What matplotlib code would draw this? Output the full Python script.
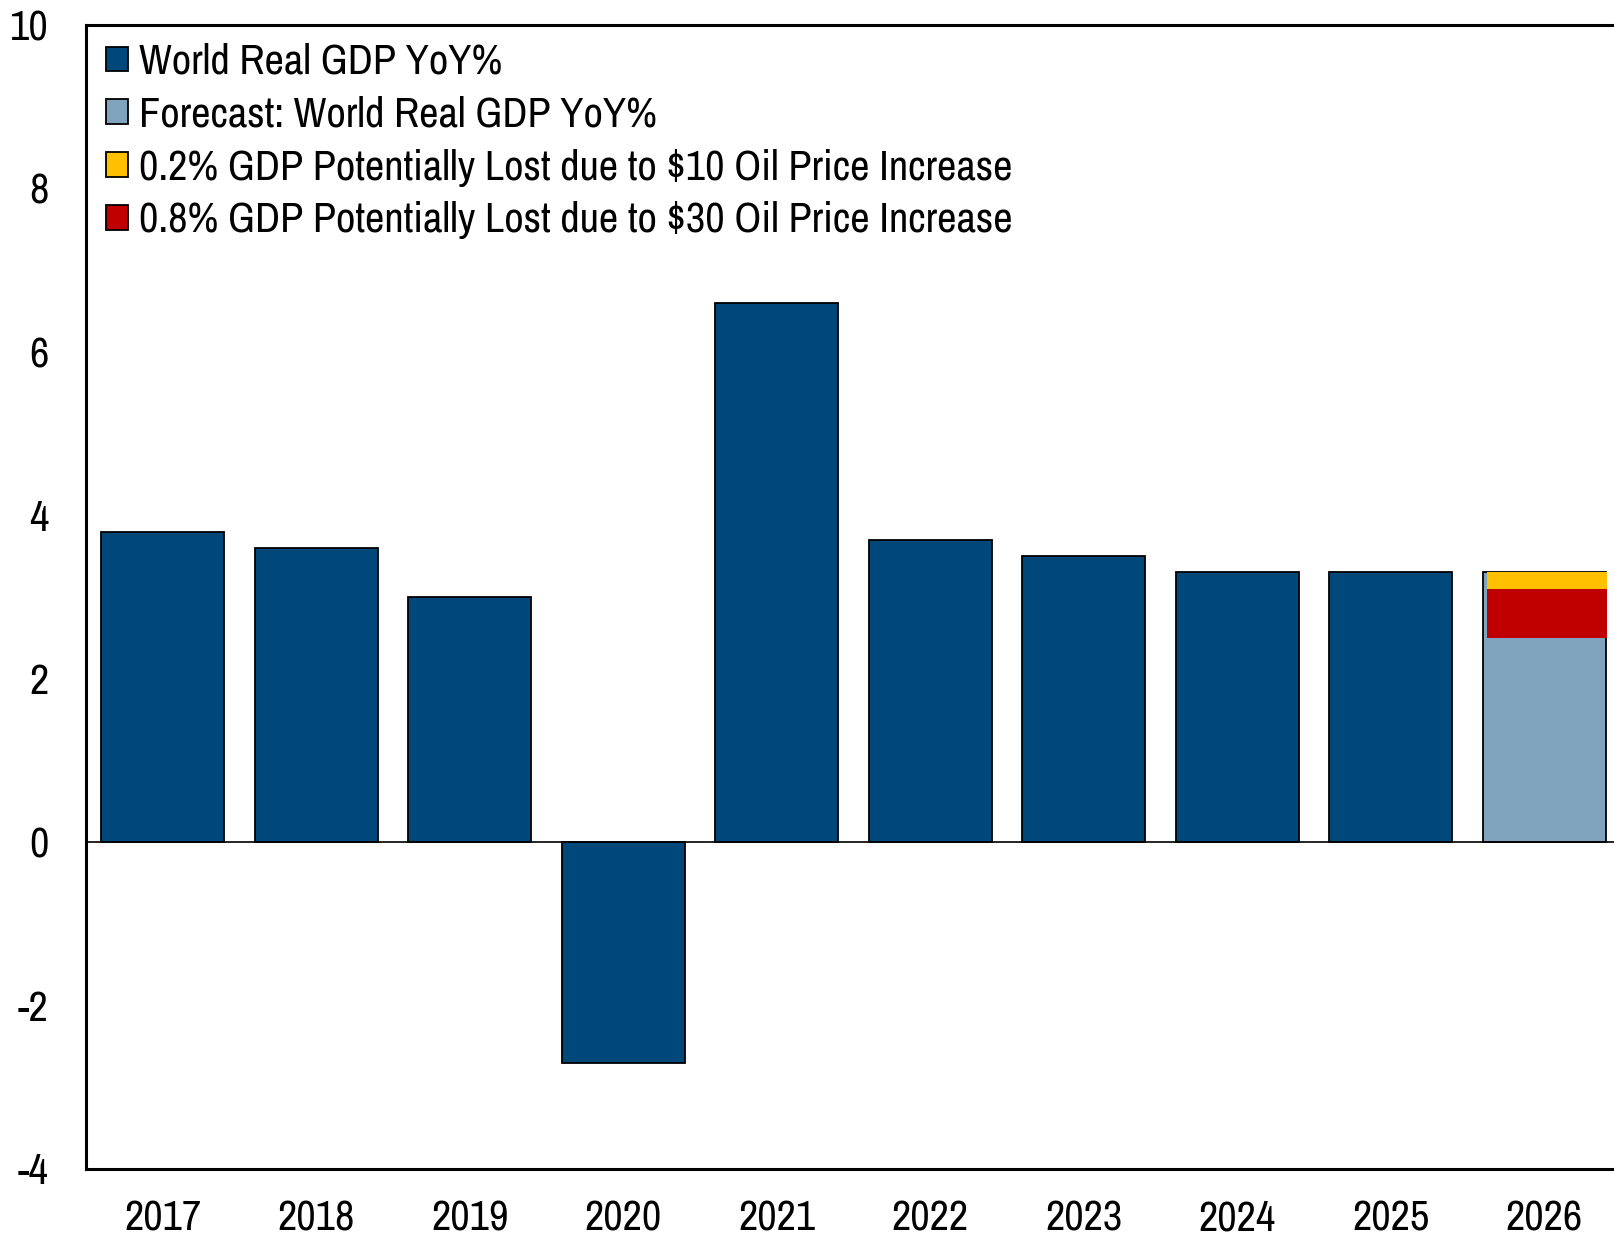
import matplotlib
matplotlib.use("Agg")
import matplotlib.pyplot as plt
from matplotlib import font_manager
from matplotlib.patches import Patch

# World real GDP growth, % YoY
years = ["2017", "2018", "2019", "2020", "2021", "2022", "2023", "2024", "2025", "2026"]
gdp_actual = [3.8, 3.6, 3.0, -2.7, 6.6, 3.7, 3.5, 3.3, 3.3]
gdp_forecast = 3.3
loss_10 = 0.2   # $10 oil price increase
loss_30 = 0.8   # $30 oil price increase

NAVY = "#00477A"
LIGHT = "#7FA3BD"
YELLOW = "#FFC000"
RED = "#C00000"
FS = 30.5

# narrow sans for everything, first one installed wins
names = {f.name for f in font_manager.fontManager.ttflist}
family = next((n for n in ["Liberation Sans Narrow", "Archivo Narrow", "Liberation Sans"] if n in names),
              "DejaVu Sans")
plt.rcParams["font.family"] = [family, "DejaVu Sans"]
plt.rcParams["axes.unicode_minus"] = False

fig = plt.figure(figsize=(16.15, 12.4), dpi=100)
ax = fig.add_axes([86 / 1615, 1 - 1169 / 1240, 1535 / 1615, 1144 / 1240])

x = list(range(len(years)))
width = 0.80

ax.bar(x[:-1], gdp_actual, width=width, color=NAVY, edgecolor="black", linewidth=1.3, zorder=2)
ax.bar(x[-1], gdp_forecast, width=width, color=LIGHT, edgecolor="black", linewidth=1.3, zorder=2)
# oil shock scenarios drawn over the forecast bar
ax.bar(x[-1] + 0.02, loss_30, bottom=gdp_forecast - loss_30, width=width - 0.02,
       color=RED, linewidth=0, zorder=3)
ax.bar(x[-1] + 0.02, loss_10, bottom=gdp_forecast - loss_10, width=width - 0.02,
       color=YELLOW, linewidth=0, zorder=4)

ax.axhline(0, color="black", linewidth=1.2, zorder=5)

ax.set_xlim(-0.5, 9.5)
ax.set_ylim(-4, 10)
ax.set_yticks(range(-4, 11, 2))
ax.set_xticks(x)
ax.set_xticklabels(years)
ax.tick_params(axis="both", length=0, labelsize=FS)
ax.tick_params(axis="y", pad=27)
ax.tick_params(axis="x", pad=22)

for side in ["left", "top", "right", "bottom"]:
    ax.spines[side].set_linewidth(2.2)

handles = [
    Patch(facecolor=NAVY, edgecolor="black", linewidth=1.3),
    Patch(facecolor=LIGHT, edgecolor="black", linewidth=1.3),
    Patch(facecolor=YELLOW, edgecolor="black", linewidth=1.3),
    Patch(facecolor=RED, edgecolor="black", linewidth=1.3),
]
labels = [
    "World Real GDP YoY%",
    "Forecast: World Real GDP YoY%",
    f"{loss_10:.1f}% GDP Potentially Lost due to $10 Oil Price Increase",
    f"{loss_30:.1f}% GDP Potentially Lost due to $30 Oil Price Increase",
]
fig.legend(handles, labels, loc="upper left",
           bbox_to_anchor=(106 / 1615, 1 - 43 / 1240),
           frameon=False, fontsize=FS, handlelength=0.53, handleheight=0.53,
           handletextpad=0.24, labelspacing=0.35, borderpad=0, borderaxespad=0)

fig.savefig("out.png", dpi=100)
